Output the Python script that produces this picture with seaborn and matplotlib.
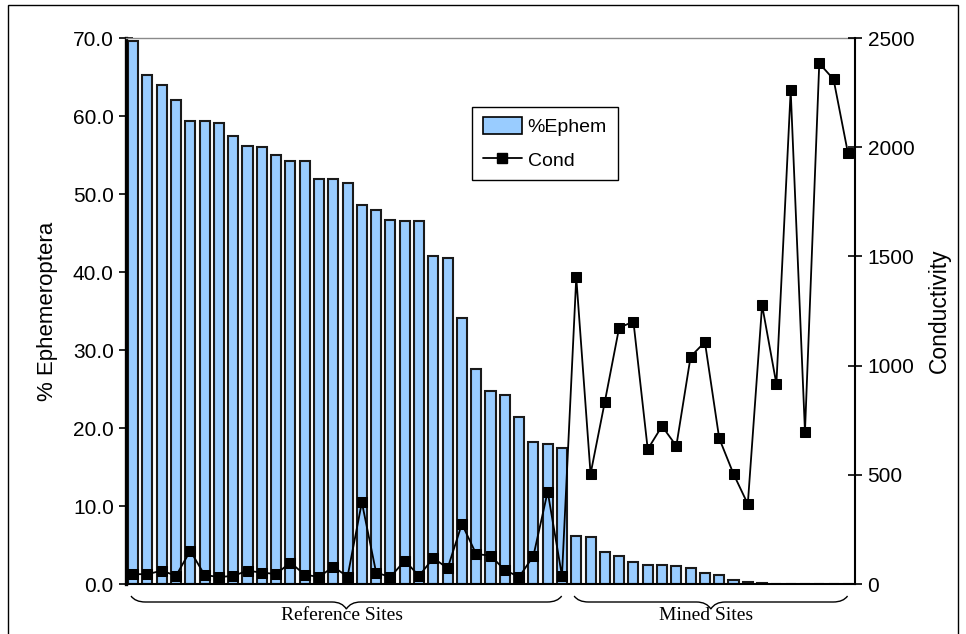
import numpy as np
import pandas as pd
import matplotlib
matplotlib.use("Agg")
import matplotlib.pyplot as plt
import seaborn as sns
from matplotlib.path import Path
from matplotlib.patches import PathPatch, Rectangle, Patch
from matplotlib.lines import Line2D
import matplotlib.transforms as mtransforms

# ---------------- data ----------------
group_labels = ["Reference Sites", "Mined Sites"]
ref_pct = [69.6, 65.2, 64.0, 62.0, 59.3, 59.3, 59.1, 57.5, 56.2, 56.0, 55.0,
           54.2, 54.2, 51.9, 51.9, 51.4, 48.6, 48.0, 46.7, 46.5, 46.5, 42.1,
           41.8, 34.1, 27.6, 24.7, 24.2, 21.4, 18.2, 18.0, 17.5]
mined_pct = [6.2, 6.0, 4.1, 3.6, 2.8, 2.5, 2.4, 2.3, 2.0, 1.4, 1.1, 0.5,
             0.2, 0.1, 0.0, 0.0, 0.0, 0.0, 0.0, 0.0]
ref_cond = [45, 45, 61, 38, 152, 41, 32, 37, 61, 52, 46, 98, 43, 32, 79, 34,
            374, 52, 32, 107, 37, 119, 72, 275, 137, 130, 64, 32, 128, 423, 37]
mined_cond = [1404, 504, 835, 1174, 1201, 617, 723, 632, 1041, 1108, 667,
              504, 366, 1277, 916, 2260, 697, 2384, 2311, 1975]
left_ticks = [0, 10, 20, 30, 40, 50, 60, 70]
right_ticks = [0, 500, 1000, 1500, 2000, 2500]

pct = ref_pct + mined_pct
cond = ref_cond + mined_cond
n = len(pct)
df = pd.DataFrame({"site": np.arange(n), "pct": pct, "cond": cond})

# ---------------- style ----------------
sns.set_theme(style="white")
plt.rcParams["font.family"] = ["Liberation Sans", "DejaVu Sans"]
plt.rcParams["text.color"] = "black"
plt.rcParams["axes.labelcolor"] = "black"
plt.rcParams["xtick.color"] = "black"
plt.rcParams["ytick.color"] = "black"

W, H = 966, 634
fig = plt.figure(figsize=(W / 100, H / 100), dpi=100)
L, R, T, B = 126, 855, 38, 584
ax = fig.add_axes([L / W, 1 - B / H, (R - L) / W, (B - T) / H])

bar_color = "#99CCFF"
sns.barplot(data=df, x="site", y="pct", color=bar_color, saturation=1,
            edgecolor="#1a1a1a", linewidth=1.5, width=0.7, ax=ax)
ax.set_xlim(-0.5, n - 0.5)
ax.set_ylim(0, 70)
ax.set_yticks(left_ticks)
ax.set_yticklabels([f"{v:.1f}" for v in left_ticks], fontsize=15)
ax.set_xticks(np.arange(-0.5, n, 1.0))
ax.set_xticklabels([])
ax.set_xlabel("")
ax.set_ylabel("% Ephemeroptera", fontsize=16, labelpad=11)
ax.tick_params(axis="y", direction="inout", length=9.5, width=1.2, color="black",
               labelcolor="black", pad=4)
ax.tick_params(axis="x", direction="inout", length=5, width=1.0, color="black")
ax.spines["left"].set_linewidth(2.4)
ax.spines["left"].set_color("black")
ax.spines["bottom"].set_linewidth(1.5)
ax.spines["bottom"].set_color("black")
ax.spines["top"].set_color("#8a8a8a")
ax.spines["top"].set_linewidth(1.0)
ax.spines["right"].set_visible(False)

ax2 = ax.twinx()
sns.lineplot(data=df, x="site", y="cond", color="black", lw=1.3, marker="s",
             markersize=7.5, markeredgecolor="black", markerfacecolor="black",
             ax=ax2, legend=False)
ax2.set_xlim(-0.5, n - 0.5)
ax2.set_ylim(0, 2500)
ax2.set_yticks(right_ticks)
ax2.set_yticklabels([str(v) for v in right_ticks], fontsize=15)
ax2.set_ylabel("Conductivity", fontsize=16.5, labelpad=10)
ax2.tick_params(axis="y", direction="inout", length=10, width=1.2, color="black",
                labelcolor="black", pad=4)
for s in ["top", "left", "bottom"]:
    ax2.spines[s].set_visible(False)
ax2.spines["right"].set_color("black")
ax2.spines["right"].set_linewidth(1.5)
ax2.grid(False)
ax.grid(False)

handles = [Patch(facecolor=bar_color, edgecolor="black", linewidth=1.2, label="%Ephem"),
           Line2D([], [], color="black", lw=1.3, marker="s", markersize=7.5, label="Cond")]
leg = ax2.legend(handles=handles, loc="upper left", bbox_to_anchor=(0.475, 0.874),
                 frameon=True, fancybox=False, edgecolor="black", framealpha=1,
                 fontsize=14, handlelength=2.0, handleheight=0.9, borderpad=0.55,
                 labelspacing=0.75, handletextpad=0.3, borderaxespad=0)
leg.get_frame().set_linewidth(1.0)

# ---------------- braces ----------------
blend = mtransforms.blended_transform_factory(ax.transData, ax.transAxes)

def brace(x0, x1, y_end, y_mid, y_tip, r):
    xc = (x0 + x1) / 2
    verts = [(x0, y_end), (x0 + r * 0.3, y_mid), (x0 + r, y_mid),
             (xc - r, y_mid),
             (xc - r * 0.3, y_mid), (xc, y_tip),
             (xc + r * 0.3, y_mid), (xc + r, y_mid),
             (x1 - r, y_mid),
             (x1 - r * 0.3, y_mid), (x1, y_end)]
    codes = [Path.MOVETO, Path.CURVE3, Path.CURVE3, Path.LINETO,
             Path.CURVE3, Path.CURVE3, Path.CURVE3, Path.CURVE3,
             Path.LINETO, Path.CURVE3, Path.CURVE3]
    p = PathPatch(Path(verts, codes), facecolor="none", edgecolor="black",
                  lw=1.0, transform=blend, clip_on=False)
    ax.add_patch(p)
    return xc

groups = [(0, len(ref_pct) - 1), (len(ref_pct), n - 1)]
y_end = (B - 596) / (B - T)
y_mid = (B - 602) / (B - T)
y_tip = (B - 609) / (B - T)
y_txt = (B - 616) / (B - T)
for (i0, i1), lab in zip(groups, group_labels):
    xc = brace(i0 - 0.15, i1 - 0.02, y_end, y_mid, y_tip, 1.0)
    ax.text(xc - 0.3, y_txt, lab, transform=blend, ha="center", va="center",
            fontsize=14, family="Liberation Serif", color="black")

# outer frame
fig.patches.append(Rectangle((8 / W, -0.01), (958 - 8) / W, 1.01 - 5 / H,
                             transform=fig.transFigure, fill=False,
                             edgecolor="black", lw=1.0))

fig.savefig("out.png", dpi=100)
